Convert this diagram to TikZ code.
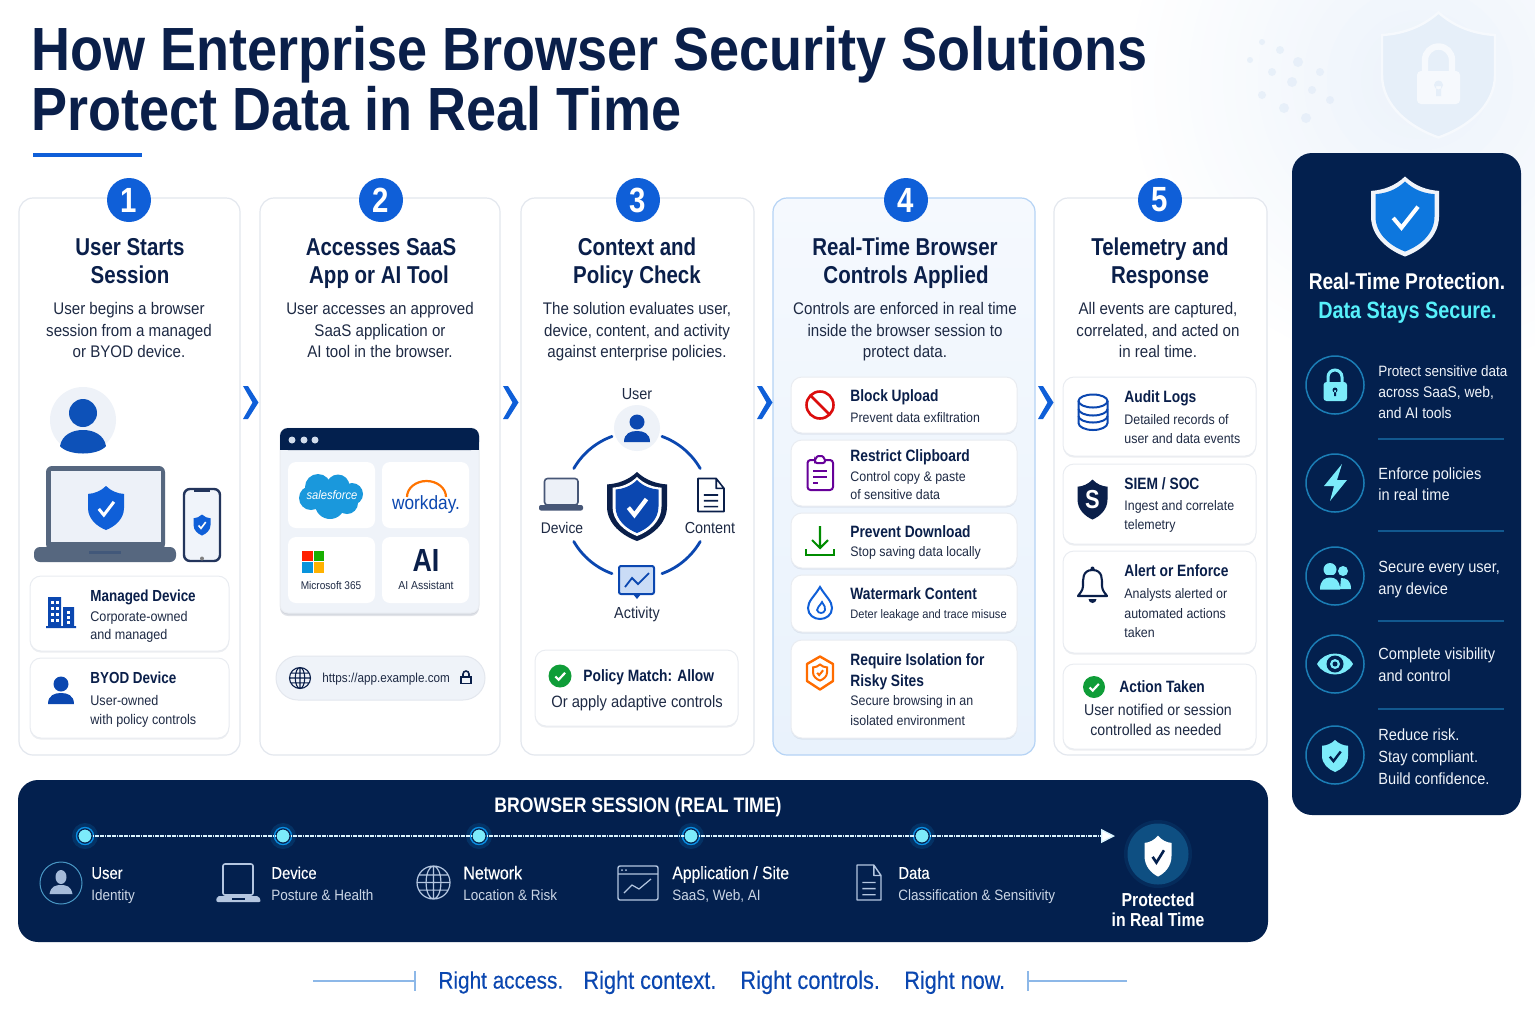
\documentclass[tikz,border=0pt]{standalone}
\usepackage{fontspec}
\usetikzlibrary{arrows.meta,shadows}
\setmainfont{Liberation Sans}[FakeStretch=0.9,BoldFeatures={FakeStretch=0.84}]
\newfontfamily\ttlfont{Liberation Sans}[FakeStretch=0.885]
\newfontfamily\medfont{Liberation Sans}[FakeStretch=0.87,FakeBold=0.25]
\definecolor{navy}{HTML}{03204E}
\definecolor{ink}{HTML}{0A1F4A}
\definecolor{bodyc}{HTML}{1E2A44}
\definecolor{blu}{HTML}{0F5FD8}
\definecolor{dblu}{HTML}{0B47B0}
\definecolor{cardline}{HTML}{E3E7EE}
\definecolor{cyanl}{HTML}{7CEBFA}
\definecolor{ringc}{HTML}{1B7DB5}
\definecolor{pale}{HTML}{EEF2F8}
\definecolor{greenc}{HTML}{0F9D38}
\definecolor{subw}{HTML}{CBD6E6}
\definecolor{iconw}{HTML}{B4C6E0}
\definecolor{slatec}{HTML}{56677F}
\definecolor{screenc}{HTML}{EDF1F8}
\definecolor{winbg}{HTML}{EFF3F9}
\definecolor{rulec}{HTML}{8DB8E8}
\definecolor{sepc}{HTML}{12588F}
\definecolor{wmshield}{HTML}{E6EFF9}
\definecolor{wmlock}{HTML}{F6F9FD}
\definecolor{sfblue}{HTML}{1A98DC}
\definecolor{panelw}{HTML}{F0F4FA}
\definecolor{glowc}{HTML}{EDF3FB}
\definecolor{glowd}{HTML}{DFEAF7}
\newcounter{tn}
% anchor, x, y, size pt, colour, text
\newcommand{\tx}[6]{\stepcounter{tn}\node[anchor=#1,inner sep=0pt,text=#5,yshift=-.7pt] (t\arabic{tn}) at (#2,#3) {\fontsize{#4}{#4}\selectfont\rule{0pt}{.72em}\rule[-.2em]{0pt}{.2em}#6};}
\newcommand{\bx}[6]{\tx{#1}{#2}{#3}{#4}{#5}{\bfseries #6}}
\newcommand{\mx}[6]{\tx{#1}{#2}{#3}{#4}{#5}{\medfont #6}}
\newcommand{\shieldpath}{(0,-50) .. controls (15,-38) and (32,-33) .. (50,-32) -- (50,0) .. controls (50,25) and (25,42) .. (0,50) .. controls (-25,42) and (-50,25) .. (-50,0) -- (-50,-32) .. controls (-32,-33) and (-15,-38) .. (0,-50) -- cycle}
\newcommand{\inbox}[5]{\begin{scope}[shift={(#1,#2)},xscale=#3/100,yscale=#4/100]#5\end{scope}}
\newcommand{\chkpath}{(-20,2) -- (-6,16) -- (22,-14)}
\newcommand{\personicon}[4]{\begin{scope}[shift={(#1,#2)},scale=#3]\fill[#4] (0,-8) circle (7.5);\fill[#4] (-13,12) .. controls (-13,3) and (-6,1) .. (0,1) .. controls (6,1) and (13,3) .. (13,12) -- cycle;\end{scope}}
\newcommand{\globeicon}[5]{\begin{scope}[shift={(#1,#2)},scale=#3/10]\draw[#4,line width=#5] (0,0) circle (10) (0,0) ellipse (4.5 and 10) (-10,0) -- (10,0) (0,-10) -- (0,10) (-8.8,-4.6) -- (8.8,-4.6) (-8.8,4.6) -- (8.8,4.6);\end{scope}}
\newcommand{\docicon}[6]{\begin{scope}[shift={(#1,#2)},xscale=#3/20,yscale=#4/20]\draw[#5,line width=#6,line join=round] (-10,-10) -- (4,-10) -- (10,-4) -- (10,10) -- (-10,10) -- cycle (4,-10) -- (4,-4) -- (10,-4) (-5.5,0) -- (5.5,0) (-5.5,3.5) -- (5.5,3.5) (-5.5,7) -- (5.5,7);\end{scope}}
\newcommand{\greencheck}[3]{\fill[greenc] (#1,#2) circle (#3);\begin{scope}[shift={(#1,#2)},scale=#3/50]\draw[white,line width=1.1pt] \chkpath;\end{scope}}
\tikzset{
 card/.style={draw=cardline,line width=.6pt,fill=white,rounded corners=7pt},
 subcard/.style={draw=cardline!80,line width=.5pt,fill=white,rounded corners=5.5pt,drop shadow={shadow xshift=0pt,shadow yshift=-.8pt,opacity=.07,fill=ink}},
 badge/.style={circle,fill=blu,text=white,inner sep=0pt,minimum size=22pt,font=\fontsize{17.5}{17.5}\selectfont\bfseries},
 tdot/.style={circle,fill=cyanl,draw=navy,line width=.5pt,inner sep=0pt,minimum size=7pt},
 tline/.style={white!85!cyan,line width=.7pt,dash pattern=on .9pt off .3pt},
 ringc/.style={draw=ringc,line width=.75pt},
 sep/.style={draw=sepc,line width=.6pt},
 ringa/.style={draw=dblu,line width=1.4pt,line cap=round},
 chev/.style={fill=blu},
}
\begin{document}
\begin{tikzpicture}[x=.5pt,y=-.5pt,every node/.style={align=left}]
\useasboundingbox (0,0) rectangle (1535,1024);
\clip (0,0) rectangle (1535,1024);
\fill[white] (0,0) rectangle (1535,1024);
% background glow (solid concentric rings) + watermark
\foreach \i in {1,...,24}{
  \pgfmathtruncatemacro{\p}{\i/24*100}
  \pgfmathsetmacro{\rr}{300-\i*11.5}
  \fill[glowc!\p!white] (1420,80) circle (\rr);}
\foreach \a/\b/\r in {1262/42/3,1280/50/4,1298/62/5,1272/72/4,1292/82/5,1312/90/4,1262/95/4,1284/108/5,1306/118/5,1330/100/4,1250/60/3,1320/72/4}{\fill[glowd,opacity=.6] (\a,\b) circle (\r);}
\inbox{1438.5}{75}{113}{125}{\fill[wmshield,draw=wmlock,line width=1.2pt] \shieldpath;}
\fill[wmlock,rounded corners=2pt] (1417,71) rectangle (1460,104);
\draw[wmlock,line width=3.2pt] (1425,72) -- (1425,60) arc[start angle=180,end angle=360,radius=13.5] -- (1452,72);
\fill[wmshield] (1438.5,85) circle (4.5) (1436,86) rectangle (1441,96);
% title
\node[anchor=base west,inner sep=0pt,text=ink] (title1) at (31,70) {\ttlfont\fontsize{30.5}{30.5}\selectfont\bfseries How Enterprise Browser Security Solutions};
\node[anchor=base west,inner sep=0pt,text=ink] (title2) at (31,130) {\ttlfont\fontsize{30.5}{30.5}\selectfont\bfseries Protect Data in Real Time};
\fill[blu] (33,153) rectangle (142,157);
% cards
\draw[card] (19,198) rectangle (240,755);
\draw[card] (260,198) rectangle (500,755);
\draw[card] (521,198) rectangle (754,755);
\definecolor{c4top}{HTML}{F5F9FE}\definecolor{c4bot}{HTML}{E9F2FC}\definecolor{c4line}{HTML}{B5D3F5}
\draw[card,draw=c4line,top color=c4top,bottom color=c4bot] (773,198) rectangle (1035,755);
\draw[card] (1054,198) rectangle (1267,755);
% badges
\node[badge] (b1) at (129,200) {1};
\node[badge] (b2) at (381,200) {2};
\node[badge] (b3) at (638,200) {3};
\node[badge] (b4) at (906,200) {4};
\node[badge] (b5) at (1160,200) {5};
% chevrons
\foreach \c in {243,503,757,1038}{\fill[chev] (\c,386) -- (\c+5,386) -- (\c+15.5,402.5) -- (\c+5,419) -- (\c,419) -- (\c+9.5,402.5) -- cycle;}
% headings
\bx{center}{130}{248}{12.2}{ink}{User Starts}
\bx{center}{130}{276}{12.2}{ink}{Session}
\bx{center}{381}{248}{12.2}{ink}{Accesses SaaS}
\bx{center}{379}{276}{12.2}{ink}{App or AI Tool}
\bx{center}{637}{248}{12.2}{ink}{Context and}
\bx{center}{637}{276}{12.2}{ink}{Policy Check}
\bx{center}{905}{248}{12.2}{ink}{Real-Time Browser}
\bx{center}{906}{276}{12.2}{ink}{Controls Applied}
\bx{center}{1160}{248}{12.2}{ink}{Telemetry and}
\bx{center}{1160}{276}{12.2}{ink}{Response}
% body
\tx{center}{129}{309}{8.4}{bodyc}{User begins a browser}
\tx{center}{129}{331}{8.4}{bodyc}{session from a managed}
\tx{center}{129}{352}{8.4}{bodyc}{or BYOD device.}
\tx{center}{380}{309}{8.4}{bodyc}{User accesses an approved}
\tx{center}{380}{331}{8.4}{bodyc}{SaaS application or}
\tx{center}{380}{352}{8.4}{bodyc}{AI tool in the browser.}
\tx{center}{637}{309}{8.4}{bodyc}{The solution evaluates user,}
\tx{center}{637}{331}{8.4}{bodyc}{device, content, and activity}
\tx{center}{637}{352}{8.4}{bodyc}{against enterprise policies.}
\tx{center}{905}{309}{8.4}{bodyc}{Controls are enforced in real time}
\tx{center}{905}{331}{8.4}{bodyc}{inside the browser session to}
\tx{center}{905}{352}{8.4}{bodyc}{protect data.}
\tx{center}{1158}{309}{8.4}{bodyc}{All events are captured,}
\tx{center}{1158}{331}{8.4}{bodyc}{correlated, and acted on}
\tx{center}{1158}{352}{8.4}{bodyc}{in real time.}
% card 1 art
\fill[pale] (83,420) circle (33);
\fill[blu!85!black] (83,413) circle (14);
\fill[blu!85!black] (60,446) .. controls (62,435) and (72,430) .. (83,430) .. controls (94,430) and (104,435) .. (106,446) .. controls (98,456) and (68,456) .. (60,446) -- cycle;
\fill[slatec,rounded corners=3pt] (46,466) rectangle (165,550);
\fill[screenc] (51,471) rectangle (161,542);
\fill[slatec,rounded corners=3pt] (34,547) rectangle (176,562);
\fill[navy!75] (89,551) rectangle (121,554);
\inbox{106}{508}{36}{44}{\fill[blu] \shieldpath;\draw[white,line width=1.5pt] \chkpath;}
\draw[fill=panelw,draw=ink!90,line width=1.2pt,rounded corners=3pt] (184,489) rectangle (220,561);
\fill[ink!90] (194,490) rectangle (210,492);
\fill[gray] (202,558.5) circle (2);
\inbox{202}{525}{17}{21}{\fill[blu] \shieldpath;\draw[white,line width=.8pt] \chkpath;}
\draw[subcard] (30,576) rectangle (229,651);
\draw[subcard] (30,658) rectangle (229,738);
\bx{west}{90}{596}{8}{ink}{Managed Device}
\tx{west}{90}{616}{7}{bodyc}{Corporate-owned}
\tx{west}{90}{634}{7}{bodyc}{and managed}
\bx{west}{90}{678}{8}{ink}{BYOD Device}
\tx{west}{90}{700}{7}{bodyc}{User-owned}
\tx{west}{90}{719}{7}{bodyc}{with policy controls}
% building
\fill[dblu] (48,597) rectangle (61,627) (63,607) rectangle (74,627) (46,626) rectangle (76,628);
\foreach \a in {51,56}{\foreach \b in {601,607,613,619}{\fill[white] (\a,\b) rectangle +(3,3);}}
\foreach \b in {611,616,621}{\fill[white] (67,\b) rectangle +(3,3);}
\personicon{61}{692}{1}{dblu}
% card 2 art
\draw[subcard,fill=winbg,rounded corners=4pt,drop shadow={shadow xshift=0pt,shadow yshift=-1.5pt,opacity=.12,fill=ink}] (280,428) rectangle (479,613);
\fill[navy,rounded corners=4pt] (280,428) rectangle (479,450);
\fill[navy] (280,440) rectangle (479,450);
\foreach \a in {292,304,315}{\fill[iconw!60!white] (\a,440) circle (3.5);}
\foreach \a/\b in {288/462,382/462,288/537,382/537}{\fill[white,rounded corners=4pt] (\a,\b) rectangle +(87,66);}
\fill[sfblue] (318,487) circle (13) (338,486) circle (11.5) (352,494) circle (11) (311,498) circle (12) (330,504) circle (15) (347,503) circle (11);
\node[inner sep=0pt,text=white] (sflabel) at (332,495.5) {\fontsize{6.2}{7}\selectfont\itshape salesforce};
\draw[orange!90!red,line width=1.1pt] (407,497) arc[start angle=180,end angle=360,x radius=19.5,y radius=16];
\node[inner sep=0pt,text=dblu] (wdlabel) at (426,505) {\fontsize{9.6}{9.6}\selectfont workday.};
\fill[red!75!orange] (302,551) rectangle (312.5,561);
\fill[green!65!black!90!yellow] (313.5,551) rectangle (324,561);
\fill[cyan!80!blue] (302,562) rectangle (312.5,573);
\fill[orange!60!yellow] (313.5,562) rectangle (324,573);
\tx{center}{331}{585}{5.6}{bodyc}{Microsoft 365}
\bx{center}{426}{562}{16}{ink}{AI}
\tx{center}{426}{585}{5.8}{bodyc}{AI Assistant}
\draw[fill=winbg,draw=cardline,line width=.5pt,rounded corners=11pt] (276,656) rectangle (485,700);
\globeicon{300}{678}{10.5}{ink}{.55pt}
\tx{west}{322}{678}{6.5}{bodyc}{https://app.example.com}
\draw[ink,line width=.8pt] (461,677) rectangle (471,683.5);
\draw[ink,line width=.8pt] (463,677) -- (463,674) arc[start angle=180,end angle=360,radius=3] -- (469,677);
% card 3 art
\tx{center}{637}{394}{8}{bodyc}{User}
\fill[pale] (637,428) circle (23);
\personicon{637}{430}{1}{dblu}
\foreach \p/\q in {110/150,30/70,210/250,290/330}{\draw[ringa] ([shift={(\p:73)}]637,505) arc[start angle=\p,end angle=\q,radius=73];}
\inbox{637}{506.5}{60}{69}{\fill[ink] \shieldpath;}
\inbox{637}{506.5}{49}{59}{\fill[white] \shieldpath;}
\inbox{637}{506.5}{43}{53}{\fill[dblu] \shieldpath;\draw[white,line width=2.1pt] \chkpath;}
\draw[fill=screenc,draw=ink!75,line width=.8pt,rounded corners=1.5pt] (544.5,478.5) rectangle (578,505);
\fill[ink!75,rounded corners=1pt] (539,505) rectangle (583,510.5);
\tx{center}{562}{528}{7.7}{bodyc}{Device}
\docicon{711}{495}{26}{33}{ink}{.8pt}
\tx{center}{710}{528}{8}{bodyc}{Content}
\draw[fill=blu!22!white,draw=dblu,line width=1pt,rounded corners=1pt] (619,566) rectangle (654,594);
\fill[dblu] (633,594) -- (641,594) -- (637,599) -- cycle;
\draw[dblu,line width=.9pt] (625,587) -- (632,578) -- (638,584) -- (649,573);
\tx{center}{637}{613}{8}{bodyc}{Activity}
\draw[subcard] (535,650) rectangle (738,726);
\greencheck{560}{676}{11.5}
\bx{west}{583}{676}{8.2}{ink}{Policy Match: Allow}
\tx{center}{637}{702}{8.2}{bodyc}{Or apply adaptive controls}
% card 4 subcards
\draw[subcard] (791,377) rectangle (1017,433);
\draw[subcard] (791,440) rectangle (1017,506);
\draw[subcard] (791,513) rectangle (1017,568);
\draw[subcard] (791,575) rectangle (1017,632);
\draw[subcard] (791,640) rectangle (1017,738);
\bx{west}{850}{396}{8.2}{ink}{Block Upload}
\tx{west}{850}{417}{6.85}{bodyc}{Prevent data exfiltration}
\bx{west}{850}{456}{8.2}{ink}{Restrict Clipboard}
\tx{west}{850}{477}{6.9}{bodyc}{Control copy \& paste}
\tx{west}{850}{494}{6.9}{bodyc}{of sensitive data}
\bx{west}{850}{532}{8.2}{ink}{Prevent Download}
\tx{west}{850}{552}{6.9}{bodyc}{Stop saving data locally}
\bx{west}{850}{594}{8.2}{ink}{Watermark Content}
\tx{west}{850}{614}{6.15}{bodyc}{Deter leakage and trace misuse}
\bx{west}{850}{660}{8.2}{ink}{Require Isolation for}
\bx{west}{850}{681}{8.2}{ink}{Risky Sites}
\tx{west}{850}{701}{6.9}{bodyc}{Secure browsing in an}
\tx{west}{850}{720}{6.9}{bodyc}{isolated environment}
% card 4 icons
\draw[red!85!black!95,line width=1.3pt] (820,405) circle (13.5) (810.5,395.5) -- (829.5,414.5);
\draw[violet!80!blue,line width=1pt,rounded corners=1.5pt] (807.5,460) rectangle (833,490);
\draw[violet!80!blue,line width=1pt,fill=white,rounded corners=1pt] (815,460) -- (815,458) -- (820,455) -- (825,458) -- (825,463) -- (815,463) -- cycle;
\draw[violet!80!blue,line width=.8pt] (813,471) -- (827,471) (813,477) -- (827,477) (813,483) -- (818,483);
\draw[green!55!black,line width=1.05pt] (820,526) -- (820,548) (812,540) -- (820,548) -- (828,540);
\draw[green!55!black,line width=1.05pt] (806,549) -- (806,555) -- (834,555) -- (834,549);
\draw[blu,line width=1pt] (820,587) .. controls (826,597) and (832,601) .. (832,608) .. controls (832,615) and (826,619) .. (820,619) .. controls (814,619) and (808,615) .. (808,608) .. controls (808,601) and (814,597) .. (820,587) -- cycle;
\draw[blu,line width=.9pt] (822,602) .. controls (824,606) and (826,607) .. (825,610) .. controls (824,614) and (818,614) .. (817,610) .. controls (817,607) and (820,606) .. (822,602) -- cycle;
\draw[orange!85!red,line width=1.2pt,line join=round] (820,656.5) -- (833,664) -- (833,681) -- (820,689.5) -- (807,681) -- (807,664) -- cycle;
\inbox{820}{672.5}{14}{16}{\draw[orange!85!red,line width=1pt] \shieldpath;\draw[orange!85!red,line width=1pt] \chkpath;}
% card 5 subcards
\draw[subcard] (1063,377) rectangle (1256,456);
\draw[subcard] (1063,464) rectangle (1256,544);
\draw[subcard] (1063,551) rectangle (1256,653);
\draw[subcard] (1063,664) rectangle (1256,749);
\bx{west}{1124}{397}{8.2}{ink}{Audit Logs}
\tx{west}{1124}{419}{6.9}{bodyc}{Detailed records of}
\tx{west}{1124}{438}{6.9}{bodyc}{user and data events}
\bx{west}{1124}{484}{8.2}{ink}{SIEM / SOC}
\tx{west}{1124}{506}{6.9}{bodyc}{Ingest and correlate}
\tx{west}{1124}{525}{6.9}{bodyc}{telemetry}
\bx{west}{1124}{571}{8.2}{ink}{Alert or Enforce}
\tx{west}{1124}{594}{6.9}{bodyc}{Analysts alerted or}
\tx{west}{1124}{613}{6.9}{bodyc}{automated actions}
\tx{west}{1124}{632}{6.9}{bodyc}{taken}
\greencheck{1094}{687}{11}
\bx{west}{1119}{687}{8.2}{ink}{Action Taken}
\tx{center}{1158}{710}{7.85}{bodyc}{User notified or session}
\tx{center}{1156}{730}{7.85}{bodyc}{controlled as needed}
% card 5 icons
\draw[dblu,line width=1pt] (1093,401) ellipse (14.5 and 6.5);
\draw[dblu,line width=1pt] (1078.5,401) -- (1078.5,423) arc[start angle=180,end angle=0,x radius=14.5,y radius=7] -- (1107.5,401);
\draw[dblu,line width=1pt] (1078.5,409) arc[start angle=180,end angle=0,x radius=14.5,y radius=6.5] (1078.5,416) arc[start angle=180,end angle=0,x radius=14.5,y radius=6.5];
\inbox{1092.5}{499.5}{30}{40}{\fill[ink] \shieldpath;}
\bx{center}{1092.5}{500}{13}{white}{S}
\draw[ink,line width=1.05pt,line join=round] (1092.5,570) .. controls (1082,570) and (1083,580) .. (1083,586) .. controls (1083,591) and (1079,594) .. (1078,596) -- (1107,596) .. controls (1106,594) and (1102,591) .. (1102,586) .. controls (1102,580) and (1103,570) .. (1092.5,570) -- cycle;
\fill[ink] (1092.5,568.5) circle (2);
\fill[ink] (1088.5,599) arc[start angle=180,end angle=0,x radius=4,y radius=4] -- cycle;
% right panel
\fill[navy,rounded corners=10pt] (1292,153) rectangle (1521,815);
\inbox{1405}{216.5}{68}{80}{\fill[panelw] \shieldpath;}
\inbox{1405}{216.5}{59}{70}{\fill[blu!85!cyan] \shieldpath;\draw[white,line width=2pt] \chkpath;}
\bx{center}{1407}{282}{11.4}{white}{Real-Time Protection.}
\bx{center}{1407.5}{311}{11.8}{cyanl!70!cyan}{Data Stays Secure.}
\foreach \y in {385,483,576,664,755}{\draw[ringc] (1335,\y) circle (29);}
\foreach \y in {439,531,621,709}{\draw[sep] (1378,\y) -- (1504,\y);}
\tx{west}{1378}{371}{7.5}{panelw}{Protect sensitive data}
\tx{west}{1378}{392}{7.7}{panelw}{across SaaS, web,}
\tx{west}{1378}{413}{7.7}{panelw}{and AI tools}
\tx{west}{1378}{474}{8.1}{panelw}{Enforce policies}
\tx{west}{1378}{495}{8.1}{panelw}{in real time}
\tx{west}{1378}{567}{8.1}{panelw}{Secure every user,}
\tx{west}{1378}{589}{8.1}{panelw}{any device}
\tx{west}{1378}{654}{8.1}{panelw}{Complete visibility}
\tx{west}{1378}{676}{8.1}{panelw}{and control}
\tx{west}{1378}{735}{8.1}{panelw}{Reduce risk.}
\tx{west}{1378}{757}{8.1}{panelw}{Stay compliant.}
\tx{west}{1378}{779}{8.1}{panelw}{Build confidence.}
% panel icons
\fill[cyanl,rounded corners=1.5pt] (1323.5,382) rectangle (1347,401);
\draw[cyanl,line width=1.5pt] (1328,383) -- (1328,377) arc[start angle=180,end angle=360,radius=7] -- (1342,383);
\fill[navy] (1335,390) circle (2.5) (1334,390) rectangle (1336,396);
\fill[cyanl] (1342,464) -- (1324,486) -- (1334,486) -- (1330,501) -- (1347,480) -- (1337,480) -- cycle;
\fill[cyanl] (1330,569.5) circle (6.5) (1343,571) circle (5);
\fill[cyanl] (1341,578) .. controls (1346,578) and (1351,580) .. (1351,589) -- (1340,589) -- cycle;
\fill[navy] (1319,592) rectangle (1340,575);
\fill[cyanl] (1320,589.5) .. controls (1320,580) and (1325,577.5) .. (1330,577.5) .. controls (1335,577.5) and (1340,580) .. (1340,589.5) -- cycle;
\fill[cyanl] (1317,664) .. controls (1325,650) and (1345,650) .. (1353,664) .. controls (1345,678) and (1325,678) .. (1317,664) -- cycle;
\fill[navy] (1335,664) circle (8.5);
\fill[cyanl] (1335,664) circle (5);
\fill[navy] (1335,664) circle (2.5);
\inbox{1335}{756}{26}{32}{\fill[cyanl] \shieldpath;\draw[navy,line width=1.2pt] \chkpath;}
% bottom panel
\fill[navy,rounded corners=10pt] (18,780) rectangle (1268,942);
\bx{center}{638}{806}{10.5}{white}{BROWSER SESSION (REAL TIME)}
\foreach \nm/\a in {d1/85,d2/283,d3/479,d4/691,d5/922}{
 \fill[cyan!70!blue,opacity=.18] (\a,836) circle (13);
 \draw[blu!70!cyan,line width=.7pt] (\a,836) circle (8.5);
 \node[tdot] (\nm) at (\a,836) {};}
\coordinate (tend) at (1115,836);
\draw[tline] (d1) -- (d2);
\draw[tline] (d2) -- (d3);
\draw[tline] (d3) -- (d4);
\draw[tline] (d4) -- (d5);
\draw[tline,-{Triangle[width=7pt,length=7pt,fill=white]}] (d5) -- (tend);
% footer icons and labels
\draw[ringc!80,line width=.5pt] (61,883) circle (21);
\fill[iconw!120] (61,877) ellipse (5.5 and 7);
\fill[iconw!120] (49.5,894) .. controls (51,886) and (56,885) .. (61,885) .. controls (66,885) and (71,886) .. (72.5,894) -- cycle;
\mx{west}{91}{873}{8.5}{white}{User}
\tx{west}{91}{895}{7.5}{subw}{Identity}
\draw[iconw,line width=.8pt,rounded corners=1pt] (223,864) rectangle (253,895);
\fill[iconw,rounded corners=1pt] (217,896) -- (259,896) -- (261,902) -- (216,902) -- cycle;
\fill[navy] (232,898) rectangle (245,899.5);
\mx{west}{271}{873}{8.5}{white}{Device}
\tx{west}{271}{895}{7.5}{subw}{Posture \& Health}
\globeicon{433.5}{882.5}{16.5}{iconw}{.6pt}
\mx{west}{463}{873}{9.2}{white}{Network}
\tx{west}{463}{895}{7.5}{subw}{Location \& Risk}
\draw[iconw,line width=.7pt,rounded corners=1pt] (618,866) rectangle (658,900);
\draw[iconw,line width=.6pt] (618,874) -- (658,874) (624,893) -- (632,885) -- (639,889) -- (651,879);
\fill[iconw] (622,870) circle (1) (626,870) circle (1);
\mx{west}{672}{873}{9}{white}{Application / Site}
\tx{west}{672}{895}{7.5}{subw}{SaaS, Web, AI}
\docicon{869}{882.5}{24}{35}{iconw}{.7pt}
\mx{west}{898}{873}{8.5}{white}{Data}
\tx{west}{898}{895}{7.5}{subw}{Classification \& Sensitivity}
\definecolor{protc}{HTML}{0E4F82}
\fill[protc,opacity=.25] (1158,854) circle (34);
\fill[protc] (1158,854) circle (30.5);
\inbox{1158}{856}{27}{41}{\fill[white] \shieldpath;\draw[navy,line width=1.3pt] \chkpath;}
\bx{center}{1158}{900}{9.4}{white}{Protected}
\bx{center}{1158}{920}{9.4}{white}{in Real Time}
% tagline
\draw[rulec,line width=.6pt] (313,981) -- (415,981) (415,971) -- (415,991);
\draw[rulec,line width=.6pt] (1127,981) -- (1028,981) (1028,971) -- (1028,991);
\mx{west}{438}{981}{11.95}{dblu}{Right access.}
\mx{west}{583}{981}{12.5}{dblu}{Right context.}
\mx{west}{740}{981}{12.55}{dblu}{Right controls.}
\mx{west}{904}{981}{12.4}{dblu}{Right now.}
\end{tikzpicture}
\end{document}
